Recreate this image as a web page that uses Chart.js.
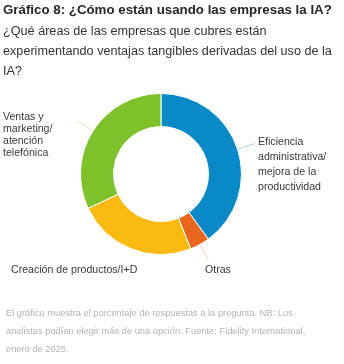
<!DOCTYPE html>
<html lang="es">
<head>
<meta charset="utf-8">
<script src="https://cdn.jsdelivr.net/npm/chart.js@4"></script>
<style>
  html, body { margin: 0; padding: 0; background: #fff; }
  body { width: 344px; height: 364px; position: relative; overflow: hidden; font-family: 'Liberation Sans', Arial, sans-serif; }
  #wrap { position: absolute; left: 0; top: 0; width: 344px; height: 364px; }
  .title { position: absolute; left: 3px; top: 2px; font-size: 13.3px; font-weight: bold; color: #262626; white-space: nowrap; }
  .sub { position: absolute; left: 3px; top: 21px; width: 341px; font-size: 12.65px; line-height: 20px; color: #333; white-space: nowrap; }
  .foot { position: absolute; left: 6px; top: 304px; width: 336px; font-size: 9.3px; line-height: 18px; color: #b3b3b3; white-space: nowrap; }
</style>
</head>
<body>
<div id="wrap"><canvas id="myChart" width="344" height="364"></canvas></div>
<div class="title">Gráfico 8: ¿Cómo están usando las empresas la IA?</div>
<div class="sub">¿Qué áreas de las empresas que cubres están<br>experimentando ventajas tangibles derivadas del uso de la<br>IA?</div>
<div class="foot">El gráfico muestra el porcentaje de respuestas a la pregunta. NB: Los<br>analistas podían elegir más de una opción. Fuente: Fidelity International,<br>enero de 2025.</div>

<script>
// === Daten ===
const categories = [
    ['Eficiencia', 'administrativa/', 'mejora de la', 'productividad'],
    ['Otras'],
    ['Creación de productos/I+D'],
    ['Ventas y', 'marketing/', 'atención', 'telefónica']
];
const values = [40, 4, 24, 32];

// === Farben ===
const colors = ['#0a89c9', '#e8661d', '#fbba12', '#7dc22b'];

// Textpositionen (nur Layout)
const labelLayout = [
    { x: 258, y: 142, lh: 15, line: true },
    { x: 205, y: 270, lh: 15, line: true },
    { x: 11,  y: 270, lh: 15, line: false },
    { x: 3,   y: 117, lh: 12, line: true }
];

// Plugin: Beschriftungen + Hinweislinien
const outsideLabels = {
    id: 'outsideLabels',
    afterDraw(chart) {
        const ctx = chart.ctx;
        const meta = chart.getDatasetMeta(0);
        ctx.save();
        meta.data.forEach((arc, i) => {
            const p = arc.getProps(['x', 'y', 'startAngle', 'endAngle', 'outerRadius'], true);
            const mid = (p.startAngle + p.endAngle) / 2;
            const lay = labelLayout[i];
            if (lay.line) {
                ctx.strokeStyle = colors[i] + '55';
                ctx.lineWidth = 1;
                ctx.beginPath();
                ctx.moveTo(p.x + Math.cos(mid) * (p.outerRadius + 1), p.y + Math.sin(mid) * (p.outerRadius + 1));
                ctx.lineTo(p.x + Math.cos(mid) * (p.outerRadius + 18), p.y + Math.sin(mid) * (p.outerRadius + 18));
                ctx.stroke();
            }
            ctx.fillStyle = '#3a3a3a';
            ctx.font = "10.6px 'Liberation Sans', Arial, sans-serif";
            ctx.textBaseline = 'middle';
            ctx.textAlign = 'left';
            categories[i].forEach((t, k) => {
                ctx.fillText(t, lay.x, lay.y + k * lay.lh);
            });
        });
        ctx.restore();
    }
};

const myChart = new Chart(document.getElementById('myChart'), {
    type: 'doughnut',
    data: {
        labels: categories.map(c => c.join(' ')),
        datasets: [{
            data: values,
            backgroundColor: colors,
            borderColor: '#ffffff',
            borderWidth: 1
        }]
    },
    options: {
        responsive: false,
        animation: false,
        cutout: '59%',
        layout: { padding: { left: 80, right: 102, top: 93, bottom: 109 } },
        plugins: {
            legend: { display: false },
            tooltip: { enabled: false }
        }
    },
    plugins: [outsideLabels]
});
</script>
</body>
</html>
